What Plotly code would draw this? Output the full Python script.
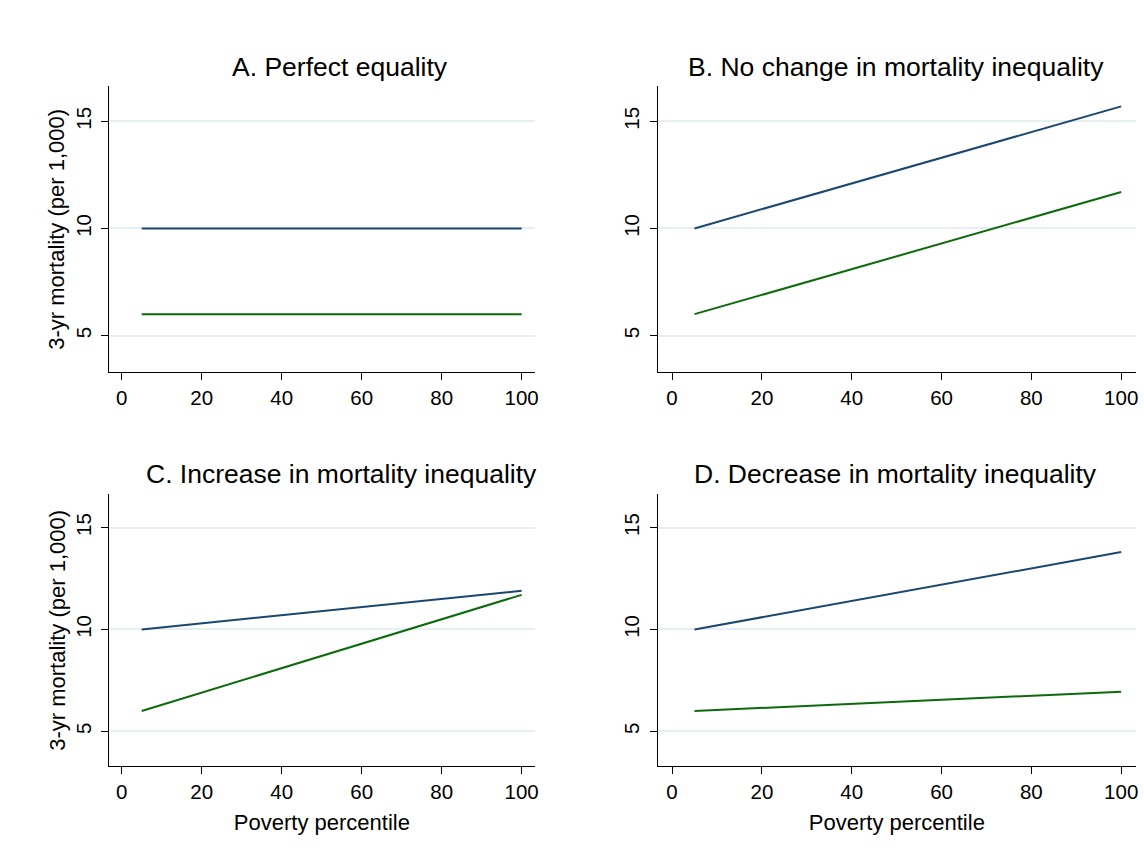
import plotly.graph_objects as go

# Poverty percentile at the ends of each fitted line
percentile = [5, 100]

# 3-year mortality (per 1,000) for the two periods, per scenario
equality_top = [10, 10]
equality_bottom = [6, 6]
nochange_top = [10, 15.7]
nochange_bottom = [6, 11.7]
increase_top = [10, 11.9]
increase_bottom = [6, 11.7]
decrease_top = [10, 13.8]
decrease_bottom = [6, 6.95]

panel_titles = [
    "A. Perfect equality",
    "B. No change in mortality inequality",
    "C. Increase in mortality inequality",
    "D. Decrease in mortality inequality",
]
y_ticks = [5, 10, 15]
x_ticks = [0, 20, 40, 60, 80, 100]
y_title = "3-yr mortality (per 1,000)"
x_title = "Poverty percentile"

NAVY = "#1a476f"
GREEN = "#0b6a0b"
GRID = "#e8eff2"
FONT = "Liberation Sans, Arial, sans-serif"

W, H = 1144, 854


def px_x(p):
    return p / W


def px_y(p):
    return 1 - p / H


panels = [
    # (x domain px, y domain px (top, bottom), series, title centre px)
    ((109.3, 536.7), (86, 372), (equality_top, equality_bottom), (341, 67)),
    ((660, 1140), (86, 372), (nochange_top, nochange_bottom), (899, 67)),
    ((109.3, 536.7), (494, 766), (increase_top, increase_bottom), (343, 474)),
    ((660, 1140), (494, 766), (decrease_top, decrease_bottom), (899, 474)),
]

fig = go.Figure()
annotations = []

for i, ((x0, x1), (yt, yb), (top, bottom), (tx, ty)) in enumerate(panels):
    n = "" if i == 0 else str(i + 1)
    xa, ya = "x" + n, "y" + n
    for vals, col in ((top, NAVY), (bottom, GREEN)):
        fig.add_trace(go.Scatter(
            x=percentile, y=vals, mode="lines",
            line=dict(color=col, width=2),
            xaxis=xa, yaxis=ya, showlegend=False, hoverinfo="skip",
        ))
    left = i % 2 == 0
    bottom_row = i >= 2
    fig.layout["xaxis" + n] = dict(
        domain=[px_x(x0), px_x(x1)], anchor=ya, range=[-3.2, 103.3],
        tickvals=x_ticks, ticks="outside", ticklen=7, tickwidth=1.3,
        tickcolor="black", showline=True, linecolor="black", linewidth=1.3,
        showgrid=False, zeroline=False,
        tickfont=dict(family=FONT, size=20.5, color="black"),
        title=dict(text=x_title if bottom_row else "",
                   font=dict(family=FONT, size=22, color="black"), standoff=12),
    )
    fig.layout["yaxis" + n] = dict(
        domain=[px_y(yb), px_y(yt)], anchor=xa, range=[3.3, 16.65],
        tickvals=y_ticks, tickangle=-90, ticks="outside", ticklen=7,
        tickwidth=1.3, tickcolor="black", showline=True, linecolor="black",
        linewidth=1.3, showgrid=True, gridcolor=GRID, gridwidth=1.5,
        zeroline=False, ticklabelstandoff=2,
        tickfont=dict(family=FONT, size=20.5, color="black"),
    )
    if left:
        # vertical axis title, placed beside the rotated tick labels
        annotations.append(dict(
            text=y_title, x=px_x(57), y=px_y((yt + yb) / 2), xref="paper",
            yref="paper", xanchor="center", yanchor="middle", textangle=-90,
            showarrow=False, font=dict(family=FONT, size=22, color="black"),
        ))
    annotations.append(dict(
        text=panel_titles[i], x=px_x(tx), y=px_y(ty), xref="paper",
        yref="paper", xanchor="center", yanchor="middle", showarrow=False,
        font=dict(family=FONT, size=26.5, color="black"),
    ))

fig.update_layout(
    width=W, height=H, margin=dict(l=0, r=0, t=0, b=0),
    paper_bgcolor="white", plot_bgcolor="white",
    annotations=annotations,
)

fig.write_html("out.html")
